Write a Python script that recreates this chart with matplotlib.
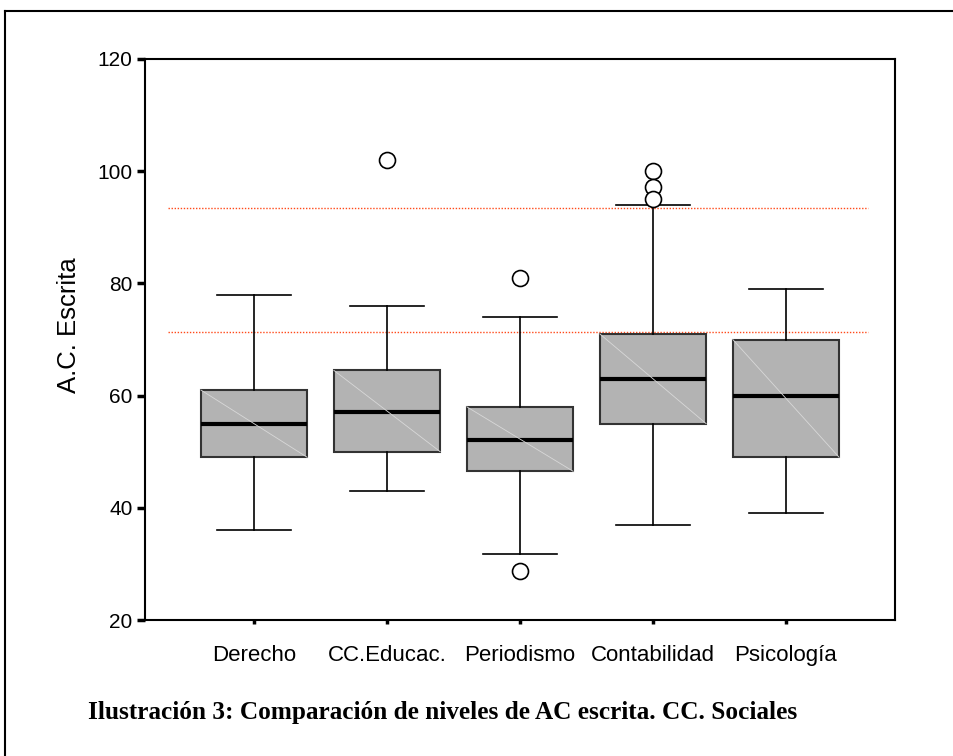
import matplotlib
matplotlib.use("Agg")
import matplotlib.pyplot as plt
from matplotlib.lines import Line2D

categories = ["Derecho", "CC.Educac.", "Periodismo", "Contabilidad", "Psicología"]
whisker_low = [36, 43, 31.8, 37, 39]
q1 = [49, 50, 46.5, 55, 49]
median = [55, 57, 52, 63, 60]
q3 = [61, 64.5, 58, 71, 70]
whisker_high = [78, 76, 74, 94, 79]
outliers = [[], [102], [81, 28.7], [100, 97.2, 95.1], []]
ref_lines = [93.4, 71.3]
yticks = [20, 40, 60, 80, 100, 120]
caption = "Ilustración 3: Comparación de niveles de AC escrita. CC. Sociales"

fig = plt.figure(figsize=(9.54, 7.56), dpi=100)
ax = fig.add_axes([145/954, 1-620/756, (895-145)/954, (620-59)/756])

stats = []
for i in range(len(categories)):
    stats.append(dict(med=median[i], q1=q1[i], q3=q3[i], whislo=whisker_low[i],
                      whishi=whisker_high[i], fliers=outliers[i], label=categories[i]))

positions = list(range(1, len(categories) + 1))
ax.bxp(stats, positions=positions, widths=0.8, patch_artist=True, capwidths=0.56,
       boxprops=dict(facecolor="#b3b3b3", edgecolor="#333333", linewidth=1.5),
       medianprops=dict(color="black", linewidth=3),
       whiskerprops=dict(color="black", linewidth=1.2),
       capprops=dict(color="black", linewidth=1.2),
       flierprops=dict(marker="o", markersize=11.5, markerfacecolor="white",
                       markeredgecolor="black", markeredgewidth=1.2),
       zorder=3)

# faint diagonal inside each box
for i, p in enumerate(positions):
    ax.plot([p - 0.4, p + 0.4], [q3[i], q1[i]], color="#d8d8d8", linewidth=0.6, zorder=3.5)

for y in ref_lines:
    ax.plot([0.35, 5.62], [y, y], color="#ff4a1a", linestyle=(0, (1, 1.2)), linewidth=1.0, zorder=2)

ax.set_xlim(0.18, 5.82)
ax.set_ylim(20, 120)
ax.set_yticks(yticks)
ax.set_xticks(positions)
ax.set_xticklabels(categories)
for s in ax.spines.values():
    s.set_linewidth(1.5)
    s.set_color("black")
ax.tick_params(axis="y", direction="out", length=6, width=2.5, pad=3,
               labelsize=15, labelfontfamily="Liberation Sans")
ax.tick_params(axis="x", direction="out", length=3, width=2.5, pad=15,
               labelsize=16, labelfontfamily="Liberation Sans")
ax.set_ylabel("A.C. Escrita", fontsize=18.5, family="Liberation Sans")
ax.yaxis.set_label_coords(-0.085, 0.526)

# outer frame lines (top and left)
fig.add_artist(Line2D([5/954, 1.0], [1-11/756, 1-11/756], color="black", linewidth=1.5,
                      transform=fig.transFigure))
fig.add_artist(Line2D([5/954, 5/954], [0, 1-11/756], color="black", linewidth=1.5,
                      transform=fig.transFigure))

fig.text(88/954, 1-712/756, caption, fontsize=18.2, fontweight="bold",
         family="Liberation Serif", va="center", ha="left")

fig.savefig("out.png", dpi=100)
